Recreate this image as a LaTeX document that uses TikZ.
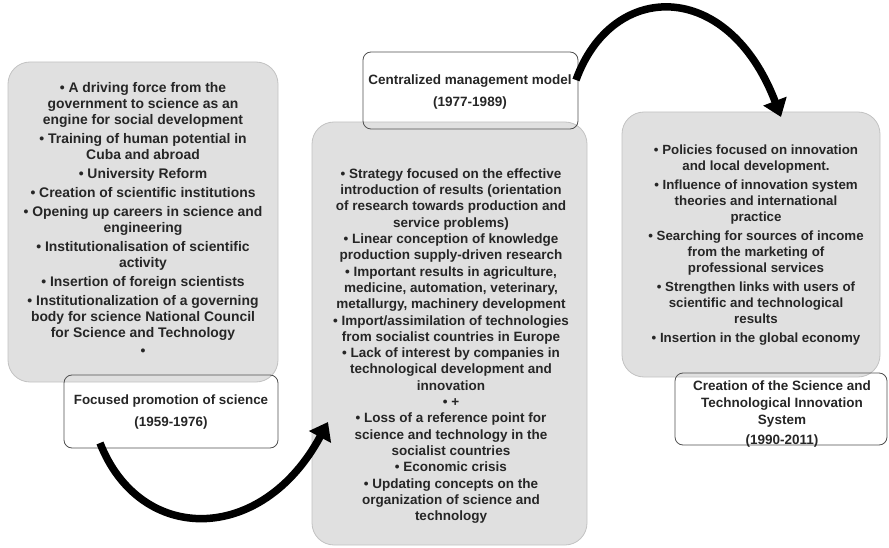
\documentclass[tikz,border=0pt]{standalone}
\usepackage{fontspec}
\setmainfont{Liberation Sans}
\usetikzlibrary{arrows.meta}
\definecolor{boxfill}{HTML}{E0E0E0}
\definecolor{boxline}{HTML}{C2C2C2}
\definecolor{labline}{HTML}{505050}
\definecolor{txt}{HTML}{262626}
\begin{document}
\begin{tikzpicture}[x=1pt,y=-1pt,
  graybox/.style={fill=boxfill,draw=boxline,line width=0.8pt,rounded corners=22pt},
  labbox/.style={draw=labline,line width=0.8pt,rounded corners=8pt},
  bodytext/.style={align=center,inner sep=0pt,text=txt,font=\fontsize{13.9}{16}\selectfont\bfseries},
  labtext/.style={align=center,inner sep=0pt,text=txt,font=\fontsize{13.3}{16.7}\selectfont\bfseries},
  bigarrow/.style={line width=7.5pt,-{Triangle[length=17pt,width=24pt]}}]
\useasboundingbox (0,0) rectangle (889,548);
% boxes
\draw[graybox] (8,62) rectangle (278,382);
\draw[labbox] (64,375) rectangle (278,448);
\draw[graybox] (312,122) rectangle (587,545);
\draw[labbox] (363,52) rectangle (578,129);
\draw[graybox] (622,112) rectangle (880,377);
\draw[labbox] (675,373) rectangle (887,445);
% label nodes
\node[labtext,font=\fontsize{13.4}{22}\selectfont\bfseries] (l1) at (171,412) {Focused promotion of science\\(1959-1976)};
\node[labtext,font=\fontsize{13.5}{22}\selectfont\bfseries] (l2) at (470,92) {Centralized management model\\(1977-1989)};
\node[labtext,font=\fontsize{13.5}{16.7}\selectfont\bfseries] (l3) at (782,414) {Creation of the Science and\\Technological Innovation\\System\\[3.5pt](1990-2011)};
% body text
\node[bodytext] (t1) at (143,219) {%
• A driving force from the\\government to science as an\\engine for social development\\[3pt]
• Training of human potential in\\Cuba and abroad\\[3pt]
• University Reform\\[3pt]
• Creation of scientific institutions\\[3pt]
• Opening up careers in science and\\engineering\\[3pt]
• Institutionalisation of scientific\\activity\\[3pt]
• Insertion of foreign scientists\\[3pt]
• Institutionalization of a governing\\body for science National Council\\for Science and Technology\\[2pt]
•};
\node[bodytext,font=\fontsize{13.5}{16.3}\selectfont\bfseries] (t2) at (451,346) {%
• Strategy focused on the effective\\introduction of results (orientation\\of research towards production and\\service problems)\\
• Linear conception of knowledge\\production supply-driven research\\
• Important results in agriculture,\\medicine, automation, veterinary,\\metallurgy, machinery development\\
• Import/assimilation of technologies\\from socialist countries in Europe\\
• Lack of interest by companies in\\technological development and\\innovation\\
• +\\
• Loss of a reference point for\\science and technology in the\\socialist countries\\
• Economic crisis\\
• Updating concepts on the\\organization of science and\\technology};
\node[bodytext,font=\fontsize{13.3}{16}\selectfont\bfseries] (t3) at (756,245) {%
• Policies focused on innovation\\and local development.\\[3pt]
• Influence of innovation system\\theories and international\\practice\\[3pt]
• Searching for sources of income\\from the marketing of\\professional services\\[3pt]
• Strengthen links with users of\\scientific and technological\\results\\[3pt]
• Insertion in the global economy};
% arrows
\coordinate (a1s) at (100,443);
\coordinate (a1e) at (328,422);
\coordinate (a2s) at (576,80);
\coordinate (a2e) at (781,117);
\draw[bigarrow] (a1s) .. controls (140,545) and (262,545) .. (a1e);
\draw[bigarrow] (a2s) .. controls (612,-20) and (728,-22) .. (a2e);
\end{tikzpicture}
\end{document}
